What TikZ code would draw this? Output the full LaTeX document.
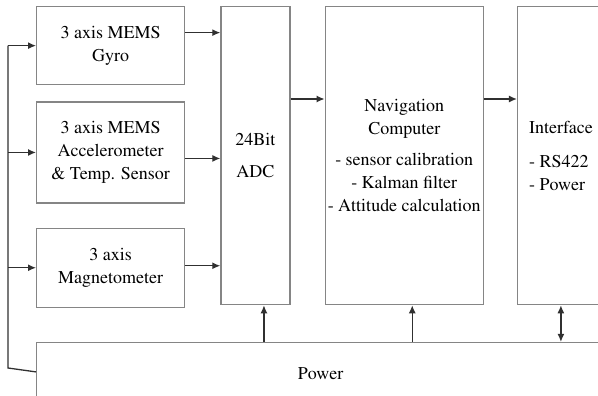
\documentclass[tikz,border=0pt]{standalone}
\usepackage[T1]{fontenc}
\usepackage{mathptmx}
\usetikzlibrary{arrows.meta, positioning}
\definecolor{edge}{HTML}{858585}
\definecolor{wirec}{HTML}{303030}

\begin{document}
\begin{tikzpicture}[
    x=1pt, y=-1pt,
    font=\rmfamily\fontsize{18pt}{23pt}\selectfont,
    >={Latex[length=8pt, width=7pt]},
    blk/.style={draw=edge, line width=1.3pt, align=center, inner sep=0pt, minimum width=#1},
    wire/.style={->, line width=1.3pt, draw=wirec},
    bus/.style={line width=1.3pt, draw=wirec},
  ]
  \clip (0,0) rectangle (598,396);
  % ---- sensors
  \node[blk=148pt, minimum height=78pt, anchor=north west] (gyro) at (36,6) {3 axis MEMS\\ Gyro};
  \node[blk=148pt, minimum height=101pt, below=16pt of gyro] (accel) {3 axis MEMS\\ Accelerometer\\ \& Temp. Sensor};
  \node[blk=148pt, minimum height=79pt, below=24pt of accel] (mag) {3 axis\\ Magnetometer};
  % ---- processing chain
  \node[blk=69pt, minimum height=298pt, below right=0pt and 35pt of gyro.north east] (adc) {24Bit\\[9pt] ADC};
  \node[blk=158pt, minimum height=298pt, below right=0pt and 34pt of adc.north east] (nav) {Navigation\\ Computer\\[8pt] - sensor calibration\\ - Kalman filter\\ - Attitude calculation};
  \node[blk=95pt, minimum height=298pt, below right=0pt and 33pt of nav.north east] (iface) {};
  \node[anchor=west, align=left, inner sep=0pt] (iftxt) at ([xshift=12pt]iface.west) {Interface\\[11pt] - RS422\\ - Power};
  % ---- power supply
  \node[blk=568pt, minimum height=62pt, below right=34pt and 0pt of mag.south west] (power) {Power};
  % ---- supply bus on the left
  \coordinate (bus) at (8,368);
  \draw[bus] ([yshift=-30pt]power.north west) -- (bus) -- (bus |- gyro.west);
  \draw[wire] (bus |- gyro.west) -- (gyro.west);
  \draw[wire] (bus |- accel.west) -- (accel.west);
  \draw[wire] (bus |- mag.west) -- (mag.west);
  % ---- sensor outputs
  \coordinate (g1) at ([yshift=13pt]gyro.east);
  \coordinate (a1) at ([yshift=-6pt]accel.east);
  \coordinate (m1) at ([yshift=2pt]mag.east);
  \draw[wire] (g1) -- (g1 -| adc.west);
  \draw[wire] (a1) -- (a1 -| adc.west);
  \draw[wire] (m1) -- (m1 -| adc.west);
  % ---- data path
  \coordinate (d1) at ([yshift=-93pt]adc.north east);
  \coordinate (d2) at ([yshift=-93pt]nav.north east);
  \draw[wire] (d1) -- (d1 -| nav.west);
  \draw[wire] (d2) -- (d2 -| iface.west);
  % ---- power feeds
  \coordinate (p1) at ([xshift=8.5pt]adc.south);
  \coordinate (p2) at ([xshift=8pt]nav.south);
  \coordinate (p3) at ([xshift=44pt]iface.south west);
  \draw[wire] (p1 |- power.north) -- (p1);
  \draw[wire] (p2 |- power.north) -- (p2);
  \draw[wire, <->] (p3 |- power.north) -- (p3);
\end{tikzpicture}
\end{document}
